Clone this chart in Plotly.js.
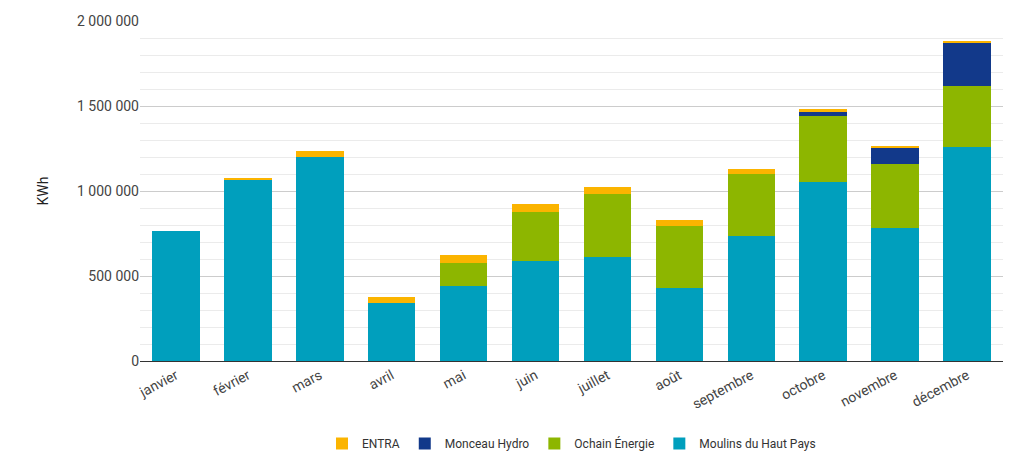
<!DOCTYPE html>
<html><head><meta charset="utf-8">
<script src="https://cdn.plot.ly/plotly-3.0.1.min.js"></script>
<style>body{margin:0;background:#fff}</style>
</head><body>
<div id="chart" style="width:1024px;height:470px"></div>
<script>
// Données mensuelles (kWh)
const mois = ['janvier','février','mars','avril','mai','juin','juillet','août','septembre','octobre','novembre','décembre'];
const moulins = [766000,1064000,1199000,339000,444000,591000,614000,427000,737000,1053000,784000,1257000];
const ochain  = [0,0,0,0,135000,286000,368000,368000,362000,391000,374000,363000];
const monceau = [0,0,0,0,0,0,0,0,0,18000,93000,251000];
const entra   = [0,12000,35000,35000,47000,47000,41000,35000,30000,18000,12000,12000];

const series = [
  { name: 'Moulins du Haut Pays', y: moulins, color: '#009fbd' },
  { name: 'Ochain Énergie', y: ochain, color: '#8db600' },
  { name: 'Monceau Hydro', y: monceau, color: '#12398a' },
  { name: 'ENTRA', y: entra, color: '#fbb400' }
];

const traces = series.map(s => ({
  type: 'bar', x: mois, y: s.y, name: s.name,
  marker: { color: s.color },
  hoverinfo: 'x+y+name'
}));

const layout = {
  barmode: 'stack',
  bargap: 0.34,
  separators: ', ',
  font: { family: 'Roboto, Arial, sans-serif', color: '#444', size: 14 },
  paper_bgcolor: '#fff', plot_bgcolor: '#fff',
  margin: { l: 140, r: 21, t: 21, b: 107 },
  xaxis: { tickangle: -28, showline: true, linecolor: '#333', ticks: '', tickfont: { size: 14, color: '#444' } },
  yaxis: {
    title: { text: 'KWh', font: { size: 14, color: '#222' }, standoff: 25 },
    range: [0, 2000000], dtick: 500000, tickformat: ',d',
    gridcolor: '#cccccc', zeroline: false,
    minor: { dtick: 100000, showgrid: true, gridcolor: '#ebebeb' },
    tickfont: { size: 14, color: '#444' }
  },
  legend: { orientation: 'h', x: 0.5, xanchor: 'center', y: -0.2, yanchor: 'top', traceorder: 'reversed', font: { size: 12, color: '#333' } },
  showlegend: true
};

Plotly.newPlot('chart', traces, layout, { displayModeBar: false });
</script>
</body></html>
